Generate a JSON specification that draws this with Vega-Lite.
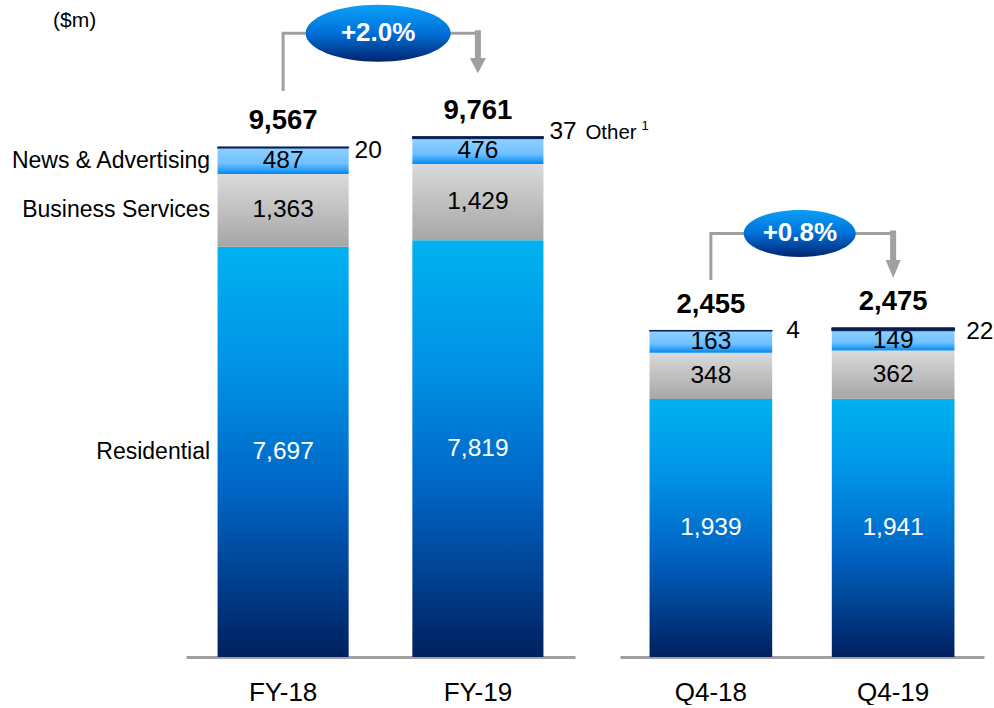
{
  "$schema": "https://vega.github.io/schema/vega-lite/v6.json",
  "padding": {"left": 10, "top": 4, "right": 0, "bottom": 0},
  "spacing": 45,
  "bounds": "flush",
  "config": {"view": {"stroke": null}, "font": "Liberation Sans"},
  "datasets": {
    "segs": [
      {"panel": "FY", "period": "FY-18", "seg": "Residential", "ord": 1, "value": 7697},
      {"panel": "FY", "period": "FY-18", "seg": "Business Services", "ord": 2, "value": 1363},
      {"panel": "FY", "period": "FY-18", "seg": "News & Advertising", "ord": 3, "value": 487},
      {"panel": "FY", "period": "FY-18", "seg": "Other", "ord": 4, "value": 20},
      {"panel": "FY", "period": "FY-19", "seg": "Residential", "ord": 1, "value": 7819},
      {"panel": "FY", "period": "FY-19", "seg": "Business Services", "ord": 2, "value": 1429},
      {"panel": "FY", "period": "FY-19", "seg": "News & Advertising", "ord": 3, "value": 476},
      {"panel": "FY", "period": "FY-19", "seg": "Other", "ord": 4, "value": 37},
      {"panel": "Q4", "period": "Q4-18", "seg": "Residential", "ord": 1, "value": 1939},
      {"panel": "Q4", "period": "Q4-18", "seg": "Business Services", "ord": 2, "value": 348},
      {"panel": "Q4", "period": "Q4-18", "seg": "News & Advertising", "ord": 3, "value": 163},
      {"panel": "Q4", "period": "Q4-18", "seg": "Other", "ord": 4, "value": 4},
      {"panel": "Q4", "period": "Q4-19", "seg": "Residential", "ord": 1, "value": 1941},
      {"panel": "Q4", "period": "Q4-19", "seg": "Business Services", "ord": 2, "value": 362},
      {"panel": "Q4", "period": "Q4-19", "seg": "News & Advertising", "ord": 3, "value": 149},
      {"panel": "Q4", "period": "Q4-19", "seg": "Other", "ord": 4, "value": 22}
    ],
    "totals": [
      {"panel": "FY", "period": "FY-18", "total": 9567},
      {"panel": "FY", "period": "FY-19", "total": 9761},
      {"panel": "Q4", "period": "Q4-18", "total": 2455},
      {"panel": "Q4", "period": "Q4-19", "total": 2475}
    ],
    "links": [
      {"panel": "FY", "part": "thin", "period": "FY-18", "val": 10617, "ord": 1},
      {"panel": "FY", "part": "thin", "period": "FY-18", "val": 11700, "ord": 2},
      {"panel": "FY", "part": "thin", "period": "FY-19", "val": 11700, "ord": 3},
      {"panel": "FY", "part": "thick", "period": "FY-19", "val": 11700, "ord": 1},
      {"panel": "FY", "part": "thick", "period": "FY-19", "val": 11199, "ord": 2},
      {"panel": "Q4", "part": "thin", "period": "Q4-18", "val": 2833, "ord": 1},
      {"panel": "Q4", "part": "thin", "period": "Q4-18", "val": 3183, "ord": 2},
      {"panel": "Q4", "part": "thin", "period": "Q4-19", "val": 3183, "ord": 3},
      {"panel": "Q4", "part": "thick", "period": "Q4-19", "val": 3183, "ord": 1},
      {"panel": "Q4", "part": "thick", "period": "Q4-19", "val": 2969, "ord": 2}
    ],
    "heads": [
      {"panel": "FY", "period": "FY-19", "val": 11093},
      {"panel": "Q4", "period": "Q4-19", "val": 2916}
    ],
    "badges": [
      {"panel": "FY", "period": "FY-18", "val": 11700, "label": "+2.0%"},
      {"panel": "Q4", "period": "Q4-18", "val": 3183, "label": "+0.8%"}
    ],
    "notes": [
      {"panel": "FY", "period": "FY-18", "val": 11921, "label": "($m)"}
    ]
  },
  "hconcat": [
    {
      "width": 389,
      "height": 652,
      "encoding": {
        "x": {"field": "period", "type": "nominal", "sort": null,
          "scale": {"domain": ["FY-18", "FY-19"], "paddingInner": 0.327, "paddingOuter": 0.162},
          "axis": {"title": null, "labelAngle": 0, "labelFontSize": 26, "labelFont": "Liberation Sans", "labelColor": "#000000", "labelPadding": 22, "ticks": false, "tickSize": 0, "domainColor": "#a0a0a0", "domainWidth": 3, "grid": false}}
      },
      "layer": [
        {
          "data": {"name": "segs"},
          "transform": [
            {"filter": "datum.panel === 'FY'"},
            {"stack": "value", "groupby": ["period"], "sort": [{"field": "ord", "order": "ascending"}], "as": ["v0", "v1"]}
          ],
          "encoding": {
            "y": {"field": "v0", "type": "quantitative", "scale": {"domain": [0, 12230], "nice": false, "zero": true}, "axis": null},
            "y2": {"field": "v1"}
          },
          "layer": [
            {"transform": [{"filter": "datum.seg === 'Residential'"}],
             "mark": {"type": "bar", "fill": {"gradient": "linear", "x1": 0, "y1": 0, "x2": 0, "y2": 1, "stops": [{"offset": 0, "color": "#00b2f0"}, {"offset": 0.3, "color": "#0092e6"}, {"offset": 0.6, "color": "#0064c4"}, {"offset": 1, "color": "#002060"}]}}},
            {"transform": [{"filter": "datum.seg === 'Business Services'"}],
             "mark": {"type": "bar", "fill": {"gradient": "linear", "x1": 0, "y1": 0, "x2": 0, "y2": 1, "stops": [{"offset": 0, "color": "#dadada"}, {"offset": 1, "color": "#a6a6a6"}]}}},
            {"transform": [{"filter": "datum.seg === 'News & Advertising'"}],
             "mark": {"type": "bar", "fill": {"gradient": "linear", "x1": 0, "y1": 0, "x2": 0, "y2": 1, "stops": [{"offset": 0, "color": "#8dd0ff"}, {"offset": 0.6, "color": "#70c0ff"}, {"offset": 0.85, "color": "#2a9ff8"}, {"offset": 1, "color": "#0088f0"}]}}},
            {"transform": [{"filter": "datum.seg === 'Other'"}],
             "mark": {"type": "bar", "fill": "#0b1d4f", "stroke": "#0b1d4f", "strokeWidth": 1}}
          ]
        },
        {
          "data": {"name": "segs"},
          "transform": [
            {"filter": "datum.panel === 'FY'"},
            {"stack": "value", "groupby": ["period"], "sort": [{"field": "ord", "order": "ascending"}], "as": ["v0", "v1"]},
            {"filter": "datum.seg !== 'Other'"},
            {"fold": ["v0", "v1"], "as": ["k", "pos"]},
            {"aggregate": [{"op": "mean", "field": "pos", "as": "mid"}], "groupby": ["period", "seg", "value"]}
          ],
          "encoding": {
            "y": {"field": "mid", "type": "quantitative", "scale": {"domain": [0, 12230], "nice": false, "zero": true}, "axis": null}
          },
          "layer": [
            {"mark": {"type": "text", "fontSize": 24.5, "baseline": "middle", "font": "Liberation Sans"},
             "encoding": {
               "text": {"field": "value", "type": "quantitative", "format": ","},
               "color": {"condition": {"test": "datum.seg === 'Residential'", "value": "#ffffff"}, "value": "#000000"}
             }},
            {"transform": [{"filter": "datum.period === 'FY-18'"}],
             "mark": {"type": "text", "fontSize": 23, "align": "right", "baseline": "middle", "dx": -73, "color": "#000000", "font": "Liberation Sans"},
             "encoding": {"text": {"field": "seg"}}}
          ]
        },
        {
          "data": {"name": "segs"},
          "transform": [
            {"filter": "datum.panel === 'FY'"},
            {"stack": "value", "groupby": ["period"], "sort": [{"field": "ord", "order": "ascending"}], "as": ["v0", "v1"]},
            {"filter": "datum.seg === 'Other'"}
          ],
          "encoding": {
            "y": {"field": "v1", "type": "quantitative", "scale": {"domain": [0, 12230], "nice": false, "zero": true}, "axis": null}
          },
          "layer": [
            {"transform": [{"filter": "datum.period === 'FY-18'"}],
             "mark": {"type": "text", "fontSize": 24.5, "align": "left", "baseline": "alphabetic", "dx": 71.5, "dy": 11, "color": "#000000", "font": "Liberation Sans"},
             "encoding": {"text": {"field": "value", "type": "quantitative", "format": ","}}},
            {"transform": [{"filter": "datum.period === 'FY-19'"}],
             "mark": {"type": "text", "fontSize": 24.5, "align": "left", "baseline": "alphabetic", "dx": 71.5, "dy": 2, "color": "#000000", "font": "Liberation Sans"},
             "encoding": {"text": {"field": "value", "type": "quantitative", "format": ","}}},
            {"transform": [{"filter": "datum.period === 'FY-19'"}],
             "mark": {"type": "text", "fontSize": 20.5, "align": "left", "baseline": "alphabetic", "dx": 107.5, "dy": 2, "color": "#000000", "font": "Liberation Sans", "text": "Other"}},
            {"transform": [{"filter": "datum.period === 'FY-19'"}],
             "mark": {"type": "text", "fontSize": 13, "align": "left", "baseline": "alphabetic", "dx": 163.5, "dy": -6.5, "color": "#000000", "font": "Liberation Sans", "text": "1"}}
          ]
        },
        {
          "data": {"name": "totals"},
          "transform": [{"filter": "datum.panel === 'FY'"}],
          "mark": {"type": "text", "fontSize": 27.5, "fontWeight": "bold", "baseline": "alphabetic", "dy": -17.5, "color": "#000000", "font": "Liberation Sans"},
          "encoding": {
            "y": {"field": "total", "type": "quantitative", "scale": {"domain": [0, 12230], "nice": false, "zero": true}, "axis": null},
            "text": {"field": "total", "type": "quantitative", "format": ","}
          }
        },
        {
          "data": {"name": "links"},
          "transform": [{"filter": "datum.panel === 'FY' && datum.part === 'thin'"}],
          "mark": {"type": "line", "stroke": "#a0a0a0", "strokeWidth": 3, "strokeJoin": "miter"},
          "encoding": {
            "y": {"field": "val", "type": "quantitative", "scale": {"domain": [0, 12230], "nice": false, "zero": true}, "axis": null},
            "order": {"field": "ord", "type": "quantitative"}
          }
        },
        {
          "data": {"name": "links"},
          "transform": [{"filter": "datum.panel === 'FY' && datum.part === 'thick'"}],
          "mark": {"type": "line", "stroke": "#a0a0a0", "strokeWidth": 6, "strokeCap": "square"},
          "encoding": {
            "y": {"field": "val", "type": "quantitative", "scale": {"domain": [0, 12230], "nice": false, "zero": true}, "axis": null},
            "order": {"field": "ord", "type": "quantitative"}
          }
        },
        {
          "data": {"name": "heads"},
          "transform": [{"filter": "datum.panel === 'FY'"}],
          "mark": {"type": "point", "shape": "M-1,-0.94L1,-0.94L0,0.94Z", "size": 256, "filled": true, "fill": "#a0a0a0", "opacity": 1, "strokeWidth": 0},
          "encoding": {
            "y": {"field": "val", "type": "quantitative", "scale": {"domain": [0, 12230], "nice": false, "zero": true}, "axis": null}
          }
        },
        {
          "data": {"name": "badges"},
          "transform": [{"filter": "datum.panel === 'FY'"}],
          "encoding": {
            "y": {"field": "val", "type": "quantitative", "scale": {"domain": [0, 12230], "nice": false, "zero": true}, "axis": null}
          },
          "layer": [
            {"mark": {"type": "point", "shape": "M-1,0C-1,-0.217,-0.552,-0.393,0,-0.393C0.552,-0.393,1,-0.217,1,0C1,0.217,0.552,0.393,0,0.393C-0.552,0.393,-1,0.217,-1,0Z", "size": 21025, "filled": true, "opacity": 1, "strokeWidth": 0,
               "fill": {"gradient": "linear", "x1": 0, "y1": 0, "x2": 0, "y2": 1, "stops": [{"offset": 0, "color": "#0aa0f8"}, {"offset": 0.5, "color": "#0070d8"}, {"offset": 1, "color": "#002470"}]}},
             "encoding": {
               "x": {"field": "period", "type": "nominal", "sort": null, "bandPosition": 1.225,
                 "scale": {"domain": ["FY-18", "FY-19"], "paddingInner": 0.327, "paddingOuter": 0.162},
                 "axis": {"title": null, "labelAngle": 0, "labelFontSize": 26, "labelFont": "Liberation Sans", "labelColor": "#000000", "labelPadding": 22, "ticks": false, "tickSize": 0, "domainColor": "#a0a0a0", "domainWidth": 3, "grid": false}}
             }},
            {"mark": {"type": "text", "fontSize": 26, "fontWeight": "bold", "baseline": "middle", "color": "#ffffff", "dx": 95, "font": "Liberation Sans"},
             "encoding": {"text": {"field": "label"}}}
          ]
        },
        {
          "data": {"name": "notes"},
          "mark": {"type": "text", "fontSize": 21, "baseline": "middle", "dx": -208.5, "color": "#000000", "font": "Liberation Sans"},
          "encoding": {
            "y": {"field": "val", "type": "quantitative", "scale": {"domain": [0, 12230], "nice": false, "zero": true}, "axis": null},
            "text": {"field": "label"}
          }
        }
      ]
    },
    {
      "width": 364,
      "height": 652,
      "encoding": {
        "x": {"field": "period", "type": "nominal", "sort": null,
          "scale": {"domain": ["Q4-18", "Q4-19"], "paddingInner": 0.327, "paddingOuter": 0.162},
          "axis": {"title": null, "labelAngle": 0, "labelFontSize": 26, "labelFont": "Liberation Sans", "labelColor": "#000000", "labelPadding": 22, "ticks": false, "tickSize": 0, "domainColor": "#a0a0a0", "domainWidth": 3, "grid": false}}
      },
      "layer": [
        {
          "data": {"name": "segs"},
          "transform": [
            {"filter": "datum.panel === 'Q4'"},
            {"stack": "value", "groupby": ["period"], "sort": [{"field": "ord", "order": "ascending"}], "as": ["v0", "v1"]}
          ],
          "encoding": {
            "y": {"field": "v0", "type": "quantitative", "scale": {"domain": [0, 4900], "nice": false, "zero": true}, "axis": null},
            "y2": {"field": "v1"}
          },
          "layer": [
            {"transform": [{"filter": "datum.seg === 'Residential'"}],
             "mark": {"type": "bar", "fill": {"gradient": "linear", "x1": 0, "y1": 0, "x2": 0, "y2": 1, "stops": [{"offset": 0, "color": "#00b2f0"}, {"offset": 0.3, "color": "#0092e6"}, {"offset": 0.6, "color": "#0064c4"}, {"offset": 1, "color": "#002060"}]}}},
            {"transform": [{"filter": "datum.seg === 'Business Services'"}],
             "mark": {"type": "bar", "fill": {"gradient": "linear", "x1": 0, "y1": 0, "x2": 0, "y2": 1, "stops": [{"offset": 0, "color": "#dadada"}, {"offset": 1, "color": "#a6a6a6"}]}}},
            {"transform": [{"filter": "datum.seg === 'News & Advertising'"}],
             "mark": {"type": "bar", "fill": {"gradient": "linear", "x1": 0, "y1": 0, "x2": 0, "y2": 1, "stops": [{"offset": 0, "color": "#8dd0ff"}, {"offset": 0.6, "color": "#70c0ff"}, {"offset": 0.85, "color": "#2a9ff8"}, {"offset": 1, "color": "#0088f0"}]}}},
            {"transform": [{"filter": "datum.seg === 'Other'"}],
             "mark": {"type": "bar", "fill": "#0b1d4f", "stroke": "#0b1d4f", "strokeWidth": 1}}
          ]
        },
        {
          "data": {"name": "segs"},
          "transform": [
            {"filter": "datum.panel === 'Q4'"},
            {"stack": "value", "groupby": ["period"], "sort": [{"field": "ord", "order": "ascending"}], "as": ["v0", "v1"]},
            {"filter": "datum.seg !== 'Other'"},
            {"fold": ["v0", "v1"], "as": ["k", "pos"]},
            {"aggregate": [{"op": "mean", "field": "pos", "as": "mid"}], "groupby": ["period", "seg", "value"]}
          ],
          "mark": {"type": "text", "fontSize": 24.5, "baseline": "middle", "font": "Liberation Sans"},
          "encoding": {
            "y": {"field": "mid", "type": "quantitative", "scale": {"domain": [0, 4900], "nice": false, "zero": true}, "axis": null},
            "text": {"field": "value", "type": "quantitative", "format": ","},
            "color": {"condition": {"test": "datum.seg === 'Residential'", "value": "#ffffff"}, "value": "#000000"}
          }
        },
        {
          "data": {"name": "segs"},
          "transform": [
            {"filter": "datum.panel === 'Q4'"},
            {"stack": "value", "groupby": ["period"], "sort": [{"field": "ord", "order": "ascending"}], "as": ["v0", "v1"]},
            {"filter": "datum.seg === 'Other'"}
          ],
          "encoding": {
            "y": {"field": "v1", "type": "quantitative", "scale": {"domain": [0, 4900], "nice": false, "zero": true}, "axis": null},
            "text": {"field": "value", "type": "quantitative", "format": ","}
          },
          "layer": [
            {"transform": [{"filter": "datum.period === 'Q4-18'"}],
             "mark": {"type": "text", "fontSize": 24.5, "align": "left", "baseline": "alphabetic", "dx": 75.5, "dy": 8, "color": "#000000", "font": "Liberation Sans"}},
            {"transform": [{"filter": "datum.period === 'Q4-19'"}],
             "mark": {"type": "text", "fontSize": 24.5, "align": "left", "baseline": "alphabetic", "dx": 73, "dy": 11, "color": "#000000", "font": "Liberation Sans"}}
          ]
        },
        {
          "data": {"name": "totals"},
          "transform": [{"filter": "datum.panel === 'Q4'"}],
          "mark": {"type": "text", "fontSize": 27.5, "fontWeight": "bold", "baseline": "alphabetic", "dy": -17.5, "color": "#000000", "font": "Liberation Sans"},
          "encoding": {
            "y": {"field": "total", "type": "quantitative", "scale": {"domain": [0, 4900], "nice": false, "zero": true}, "axis": null},
            "text": {"field": "total", "type": "quantitative", "format": ","}
          }
        },
        {
          "data": {"name": "links"},
          "transform": [{"filter": "datum.panel === 'Q4' && datum.part === 'thin'"}],
          "mark": {"type": "line", "stroke": "#a0a0a0", "strokeWidth": 3, "strokeJoin": "miter"},
          "encoding": {
            "y": {"field": "val", "type": "quantitative", "scale": {"domain": [0, 4900], "nice": false, "zero": true}, "axis": null},
            "order": {"field": "ord", "type": "quantitative"}
          }
        },
        {
          "data": {"name": "links"},
          "transform": [{"filter": "datum.panel === 'Q4' && datum.part === 'thick'"}],
          "mark": {"type": "line", "stroke": "#a0a0a0", "strokeWidth": 6, "strokeCap": "square"},
          "encoding": {
            "y": {"field": "val", "type": "quantitative", "scale": {"domain": [0, 4900], "nice": false, "zero": true}, "axis": null},
            "order": {"field": "ord", "type": "quantitative"}
          }
        },
        {
          "data": {"name": "heads"},
          "transform": [{"filter": "datum.panel === 'Q4'"}],
          "mark": {"type": "point", "shape": "M-1,-1.2L1,-1.2L0,1.2Z", "size": 225, "filled": true, "fill": "#a0a0a0", "opacity": 1, "strokeWidth": 0},
          "encoding": {
            "y": {"field": "val", "type": "quantitative", "scale": {"domain": [0, 4900], "nice": false, "zero": true}, "axis": null}
          }
        },
        {
          "data": {"name": "badges"},
          "transform": [{"filter": "datum.panel === 'Q4'"}],
          "encoding": {
            "y": {"field": "val", "type": "quantitative", "scale": {"domain": [0, 4900], "nice": false, "zero": true}, "axis": null}
          },
          "layer": [
            {"mark": {"type": "point", "shape": "M-1,0C-1,-0.232,-0.552,-0.42,0,-0.42C0.552,-0.42,1,-0.232,1,0C1,0.232,0.552,0.42,0,0.42C-0.552,0.42,-1,0.232,-1,0Z", "size": 12544, "filled": true, "opacity": 1, "strokeWidth": 0,
               "fill": {"gradient": "linear", "x1": 0, "y1": 0, "x2": 0, "y2": 1, "stops": [{"offset": 0, "color": "#0aa0f8"}, {"offset": 0.5, "color": "#0070d8"}, {"offset": 1, "color": "#002470"}]}},
             "encoding": {
               "x": {"field": "period", "type": "nominal", "sort": null, "bandPosition": 1.224,
                 "scale": {"domain": ["Q4-18", "Q4-19"], "paddingInner": 0.327, "paddingOuter": 0.162},
                 "axis": {"title": null, "labelAngle": 0, "labelFontSize": 26, "labelFont": "Liberation Sans", "labelColor": "#000000", "labelPadding": 22, "ticks": false, "tickSize": 0, "domainColor": "#a0a0a0", "domainWidth": 3, "grid": false}}
             }},
            {"mark": {"type": "text", "fontSize": 26, "fontWeight": "bold", "baseline": "middle", "color": "#ffffff", "dx": 89, "font": "Liberation Sans"},
             "encoding": {"text": {"field": "label"}}}
          ]
        }
      ]
    }
  ]
}
